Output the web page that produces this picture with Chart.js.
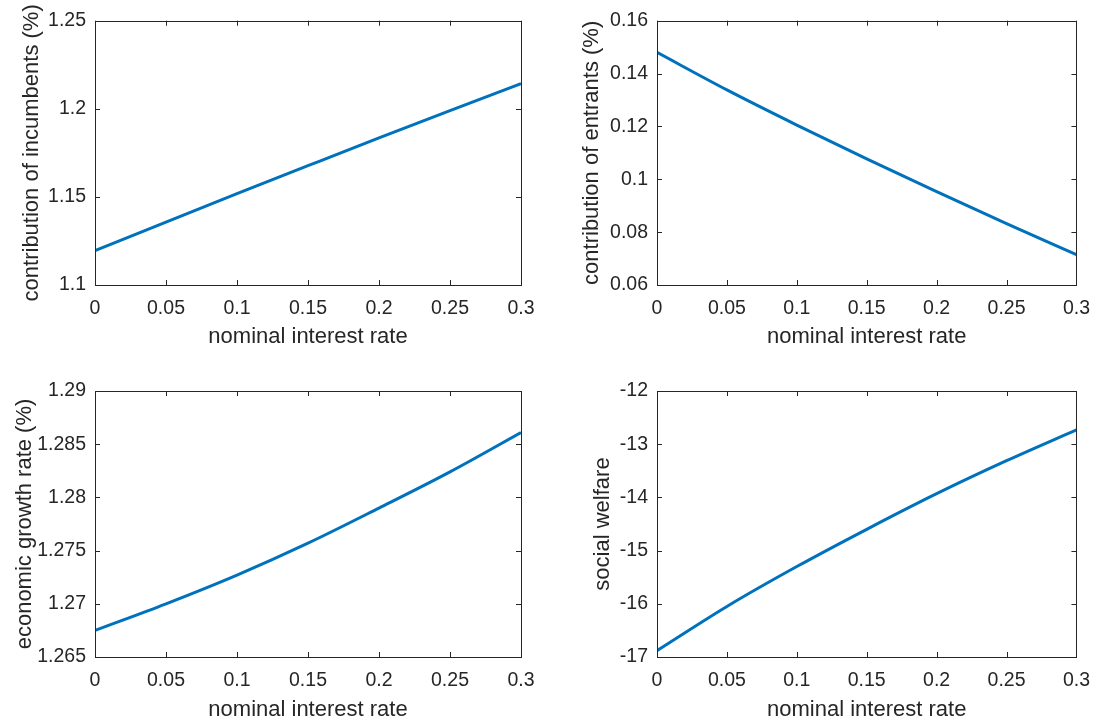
<!DOCTYPE html>
<html>
<head>
<meta charset="utf-8">
<script src="https://cdn.jsdelivr.net/npm/chart.js@4/dist/chart.umd.min.js"></script>
<style>
  html, body { margin: 0; padding: 0; background: #fff; }
  #wrap { position: relative; width: 1102px; height: 726px; }
  canvas { position: absolute; }
</style>
</head>
<body>
<div id="wrap"></div>
<script>
// interest rate grid (x) and the four series
var rates = [0, 0.05, 0.1, 0.15, 0.2, 0.25, 0.3];
var incumbents = [1.1195, 1.1357, 1.1518, 1.1677, 1.1835, 1.1990, 1.2143];
var entrants = [0.1480, 0.1338, 0.1205, 0.1077, 0.0953, 0.0832, 0.0715];
var growth = [1.2675, 1.2700, 1.2727, 1.2757, 1.2790, 1.2824, 1.2861];
var welfare = [-16.88, -16.05, -15.30, -14.60, -13.93, -13.31, -12.73];

var xTicks = [0, 0.05, 0.1, 0.15, 0.2, 0.25, 0.3];
var xTickLabels = ['0', '0.05', '0.1', '0.15', '0.2', '0.25', '0.3'];
var incTicks = [1.1, 1.15, 1.2, 1.25];
var incTickLabels = ['1.1', '1.15', '1.2', '1.25'];
var entTicks = [0.06, 0.08, 0.1, 0.12, 0.14, 0.16];
var entTickLabels = ['0.06', '0.08', '0.1', '0.12', '0.14', '0.16'];
var growTicks = [1.265, 1.27, 1.275, 1.28, 1.285, 1.29];
var growTickLabels = ['1.265', '1.27', '1.275', '1.28', '1.285', '1.29'];
var welfTicks = [-17, -16, -15, -14, -13, -12];
var welfTickLabels = ['-17', '-16', '-15', '-14', '-13', '-12'];

var xTitle = 'nominal interest rate';
var FONT = '"Liberation Sans", Arial, Helvetica, sans-serif';
var AXIS = '#262626';
var LINE = '#0072BD';
var TICK_LEN = 5;

// box round the plot area with inward ticks on all four sides
var boxTicks = {
  id: 'boxTicks',
  afterDatasetsDraw: function (chart) {
    var a = chart.chartArea, ctx = chart.ctx;
    var xs = chart.scales.x, ys = chart.scales.y;
    ctx.save();
    ctx.strokeStyle = AXIS;
    ctx.lineWidth = 1;
    ctx.beginPath();
    xs.ticks.forEach(function (t) {
      var px = Math.round(xs.getPixelForValue(t.value)) + 0.5;
      ctx.moveTo(px, a.bottom); ctx.lineTo(px, a.bottom - TICK_LEN);
      ctx.moveTo(px, a.top); ctx.lineTo(px, a.top + TICK_LEN);
    });
    ys.ticks.forEach(function (t) {
      var py = Math.round(ys.getPixelForValue(t.value)) + 0.5;
      ctx.moveTo(a.left, py); ctx.lineTo(a.left + TICK_LEN, py);
      ctx.moveTo(a.right, py); ctx.lineTo(a.right - TICK_LEN, py);
    });
    ctx.stroke();
    ctx.strokeRect(Math.round(a.left) + 0.5, Math.round(a.top) + 0.5,
                   Math.round(a.width), Math.round(a.height));
    ctx.restore();
  }
};

function setTicks(values) {
  return function (scale) {
    scale.ticks = values.map(function (v) { return { value: v }; });
  };
}

function labelFrom(values, labels) {
  return function (v) {
    var i = values.findIndex(function (t) { return Math.abs(t - v) < 1e-9; });
    return i < 0 ? '' : labels[i];
  };
}

// p: canvas box, L/T/R/B: wanted plot box in page pixels
function makePanel(p) {
  var cv = document.createElement('canvas');
  cv.width = p.w; cv.height = p.h;
  cv.style.left = p.left + 'px'; cv.style.top = p.top + 'px';
  cv.style.width = p.w + 'px'; cv.style.height = p.h + 'px';
  document.getElementById('wrap').appendChild(cv);

  var yWidth = p.L - p.left;
  var xHeight = p.top + p.h - p.B;

  new Chart(cv.getContext('2d'), {
    type: 'line',
    data: {
      datasets: [{
        data: rates.map(function (r, i) { return { x: r, y: p.values[i] }; }),
        borderColor: LINE,
        borderWidth: 3,
        pointRadius: 0,
        cubicInterpolationMode: 'monotone',
        fill: false
      }]
    },
    options: {
      responsive: false,
      animation: false,
      devicePixelRatio: 1,
      layout: { padding: { top: p.T - p.top, right: p.left + p.w - p.R, bottom: 0, left: 0 } },
      plugins: { legend: { display: false }, tooltip: { enabled: false } },
      scales: {
        x: {
          type: 'linear', min: 0, max: 0.3,
          afterBuildTicks: setTicks(xTicks),
          afterFit: function (s) { s.height = xHeight; },
          grid: { display: false, drawTicks: false },
          border: { display: false },
          ticks: {
            color: AXIS, padding: 12, maxRotation: 0, autoSkip: false,
            font: { family: FONT, size: 19.5 },
            callback: labelFrom(xTicks, xTickLabels)
          },
          title: {
            display: true, text: xTitle, color: AXIS,
            font: { family: FONT, size: 22 },
            padding: { top: 0, bottom: p.xtPad }
          }
        },
        y: {
          type: 'linear', min: p.yTicks[0], max: p.yTicks[p.yTicks.length - 1],
          afterBuildTicks: setTicks(p.yTicks),
          afterFit: function (s) { s.width = yWidth; },
          grid: { display: false, drawTicks: false },
          border: { display: false },
          ticks: {
            color: AXIS, padding: 9, autoSkip: false,
            font: { family: FONT, size: 19.5 },
            callback: labelFrom(p.yTicks, p.yLabels)
          },
          title: {
            display: true, text: p.yTitle, color: AXIS,
            font: { family: FONT, size: 22 },
            padding: { top: p.ytPad, bottom: 0 }
          }
        }
      }
    },
    plugins: [boxTicks]
  });
}

makePanel({ left: 0, top: 0, w: 551, h: 363, L: 95, T: 17, R: 521, B: 285,
  values: incumbents, yTicks: incTicks, yLabels: incTickLabels,
  yTitle: 'contribution of incumbents (%)', ytPad: 19, xtPad: 13 });
makePanel({ left: 551, top: 0, w: 551, h: 363, L: 657, T: 17, R: 1083, B: 285,
  values: entrants, yTicks: entTicks, yLabels: entTickLabels,
  yTitle: 'contribution of entrants (%)', ytPad: 28, xtPad: 13 });
makePanel({ left: 0, top: 363, w: 551, h: 363, L: 95, T: 391, R: 521, B: 657,
  values: growth, yTicks: growTicks, yLabels: growTickLabels,
  yTitle: 'economic growth rate (%)', ytPad: 12, xtPad: 3 });
makePanel({ left: 551, top: 363, w: 551, h: 363, L: 657, T: 391, R: 1083, B: 657,
  values: welfare, yTicks: welfTicks, yLabels: welfTickLabels,
  yTitle: 'social welfare', ytPad: 39, xtPad: 3 });
</script>
</body>
</html>
